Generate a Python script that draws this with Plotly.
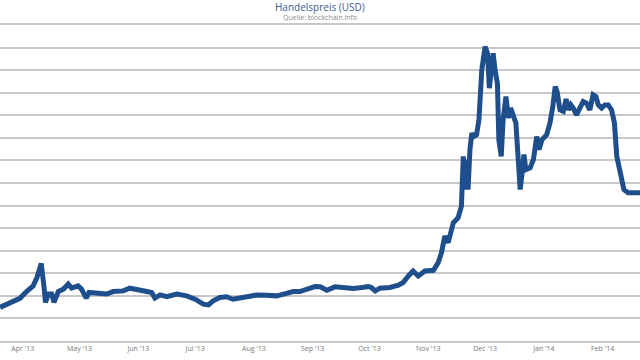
import plotly.graph_objects as go

dates = [
    "2013-03-20", "2013-03-23 12:00", "2013-03-27", "2013-03-30 12:00", "2013-04-03",
    "2013-04-06 12:00", "2013-04-08 12:00", "2013-04-10 18:00", "2013-04-12 06:00", "2013-04-13",
    "2013-04-14 12:00", "2013-04-16 06:00", "2013-04-17 12:00", "2013-04-19 18:00", "2013-04-22 12:00",
    "2013-04-25", "2013-04-26 18:00", "2013-04-30 06:00", "2013-05-02", "2013-05-04 12:00",
    "2013-05-06", "2013-05-10", "2013-05-15 06:00", "2013-05-18 18:00", "2013-05-24",
    "2013-05-27 12:00", "2013-05-31", "2013-06-05 12:00", "2013-06-08", "2013-06-09 18:00",
    "2013-06-12 12:00", "2013-06-16", "2013-06-21 06:00", "2013-06-26 12:00", "2013-07-01",
    "2013-07-05 06:00", "2013-07-08", "2013-07-10 12:00", "2013-07-14", "2013-07-17 12:00",
    "2013-07-21", "2013-07-28 06:00", "2013-08-02 12:00", "2013-08-07 18:00", "2013-08-13",
    "2013-08-18 06:00", "2013-08-21 18:00", "2013-08-25 06:00", "2013-08-28 18:00", "2013-09-02 06:00",
    "2013-09-05", "2013-09-08 12:00", "2013-09-12 18:00", "2013-09-17 06:00", "2013-09-22 12:00",
    "2013-09-27", "2013-09-30 12:00", "2013-10-02", "2013-10-04", "2013-10-06 12:00",
    "2013-10-11 18:00", "2013-10-16 06:00", "2013-10-18 18:00", "2013-10-21 12:00", "2013-10-24",
    "2013-10-26 18:00", "2013-10-30 06:00", "2013-11-03 18:00", "2013-11-06 06:00", "2013-11-08",
    "2013-11-09 18:00", "2013-11-11 12:00", "2013-11-14 06:00", "2013-11-16 18:00", "2013-11-18 12:00",
    "2013-11-19 12:00", "2013-11-20 12:00", "2013-11-21 06:00", "2013-11-22", "2013-11-23",
    "2013-11-24", "2013-11-25", "2013-11-26 12:00", "2013-11-27 18:00", "2013-11-29 06:00",
    "2013-12-01", "2013-12-02 06:00", "2013-12-03 06:00", "2013-12-04 12:00", "2013-12-05 06:00",
    "2013-12-06 06:00", "2013-12-07 12:00", "2013-12-08 06:00", "2013-12-09 12:00", "2013-12-10 12:00",
    "2013-12-12", "2013-12-13 06:00", "2013-12-14 12:00", "2013-12-16", "2013-12-17 06:00",
    "2013-12-18 12:00", "2013-12-19 12:00", "2013-12-20 18:00", "2013-12-21 12:00", "2013-12-22 12:00",
    "2013-12-24 18:00", "2013-12-26 12:00", "2013-12-28 06:00", "2013-12-29 12:00", "2013-12-31",
    "2014-01-02 12:00", "2014-01-04 06:00", "2014-01-05 18:00", "2014-01-07", "2014-01-08",
    "2014-01-09 12:00", "2014-01-11 06:00", "2014-01-12 18:00", "2014-01-14", "2014-01-15 06:00",
    "2014-01-16 12:00", "2014-01-18 06:00", "2014-01-20", "2014-01-21 18:00", "2014-01-23 12:00",
    "2014-01-25 06:00", "2014-01-27", "2014-01-28 12:00", "2014-01-29 18:00", "2014-01-31 12:00",
    "2014-02-02 06:00", "2014-02-04", "2014-02-05 18:00", "2014-02-07 06:00", "2014-02-08 12:00",
    "2014-02-10 06:00", "2014-02-12 06:00", "2014-02-14 12:00", "2014-02-20 18:00",
]

prices = [
    149, 163, 171, 189, 219,
    244, 281, 343, 238, 171,
    208, 208, 171, 219, 230,
    252, 234, 244, 230, 190,
    215, 211, 208, 219, 222,
    234, 230, 219, 215, 190,
    204, 196, 208, 200, 185,
    163, 160, 178, 193, 196,
    185, 193, 204, 203, 200,
    211, 219, 219, 230, 241,
    240, 225, 240, 237, 233,
    237, 241, 237, 222, 234,
    237, 247, 259, 288, 310,
    288, 310, 313, 347, 392,
    465, 436, 524, 546, 597,
    818, 671, 804, 671, 848,
    921, 906, 914, 980, 1201,
    1304, 1275, 1120, 1215, 1275,
    1201, 1142, 892, 818, 980,
    1083, 988, 1032, 995, 966,
    804, 671, 759, 826, 759,
    767, 804, 906, 848, 892,
    914, 966, 1039, 1127, 1105,
    1024, 1017, 1072, 1024, 1046,
    1032, 1002, 1032, 1061, 1054,
    1024, 1091, 1083, 1046, 1032,
    1046, 1046, 1024, 966, 818,
    745, 671, 657, 657,
]

title_text = "Handelspreis (USD)"
source_text = "Quelle: blockchain.info"
x_range = ["2013-03-20", "2014-02-20 18:00"]
y_range = [0, 1400]

fig = go.Figure()
fig.add_trace(go.Scatter(
    x=dates, y=prices, mode="lines",
    line=dict(color="#1f4e8c", width=5),
    hoverinfo="skip",
))

grid = "#c8c8c8"
top, bottom = 25, 19
plot_h = 360 - top - bottom
fig.update_layout(
    width=640, height=360,
    margin=dict(l=0, r=0, t=top, b=bottom),
    paper_bgcolor="white", plot_bgcolor="white",
    showlegend=False,
    font=dict(family="Open Sans, Arial, sans-serif"),
    xaxis=dict(
        type="date", range=x_range,
        tick0="2013-04-01", dtick="M1", tickformat="%b '%y",
        showgrid=False, ticks="", ticklen=0,
        tickfont=dict(size=7, color="#777777"),
        showline=True, linecolor=grid, linewidth=2, mirror=True,
        zeroline=False,
    ),
    yaxis=dict(
        range=y_range, dtick=100, showticklabels=False,
        showgrid=True, gridcolor=grid, gridwidth=2,
        zeroline=False, showline=False,
    ),
    annotations=[
        dict(text=title_text, x=0.5, xref="paper", y=1 + (top - 7.5) / plot_h, yref="paper",
             yanchor="middle", showarrow=False, font=dict(size=10, color="#3b5b8a")),
        dict(text=source_text, x=0.5, xref="paper", y=1 + (top - 17.5) / plot_h, yref="paper",
             yanchor="middle", showarrow=False, font=dict(size=7, color="#8a8a8a")),
    ],
)

fig.write_html(
    "out.html",
    config={"displayModeBar": False},
    post_script="document.body.style.margin='0';document.body.style.padding='0';",
)
